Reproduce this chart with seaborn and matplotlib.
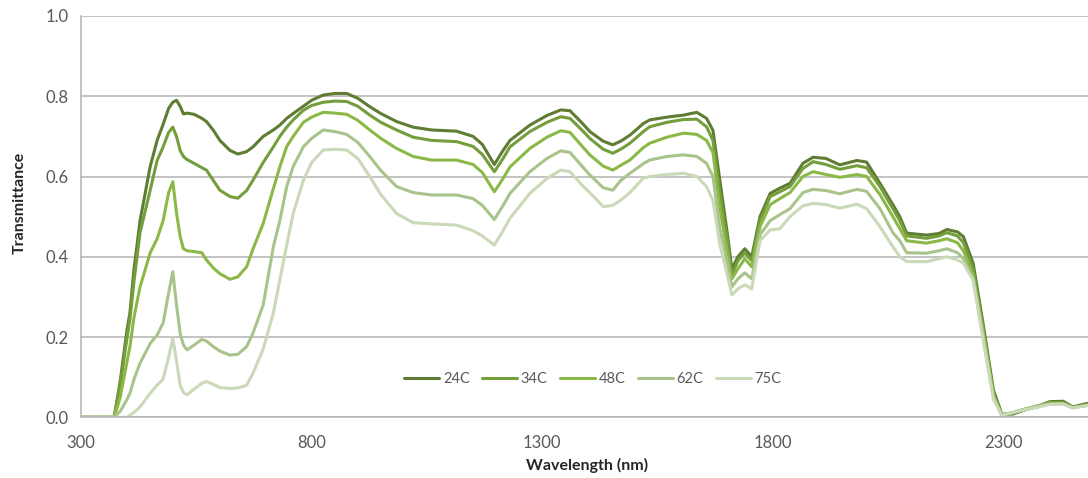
import numpy as np
import pandas as pd
import matplotlib
matplotlib.use("Agg")
import matplotlib.pyplot as plt
from matplotlib.ticker import FixedLocator, MultipleLocator, FormatStrFormatter
import seaborn as sns

series = ["24C", "34C", "48C", "62C", "75C"]
colors = ["#5F7D32", "#739E3B", "#8BB846", "#A9C48B", "#CAD9B7"]
x_major_ticks = [300, 800, 1300, 1800, 2300]

wavelength = [300, 372, 385, 400, 406, 415, 428, 450, 465, 478, 490, 499, 507, 515, 522, 530,
              545, 562, 572, 587, 601, 623, 640, 659, 673, 695, 717, 731, 746, 760, 782, 800,
              825, 850, 876, 900, 926, 950, 984, 1020, 1060, 1114, 1150, 1170, 1196, 1215, 1230,
              1273, 1310, 1340, 1360, 1389, 1403, 1432, 1453, 1470, 1490, 1519, 1533, 1570, 1606,
              1635, 1656, 1670, 1685, 1700, 1711, 1724, 1739, 1754, 1772, 1794, 1815, 1837, 1865,
              1887, 1915, 1945, 1982, 2003, 2032, 2060, 2075, 2090, 2133, 2160, 2177, 2200, 2213,
              2234, 2256, 2278, 2296, 2320, 2350, 2380, 2400, 2429, 2450, 2483, 2500]

t24 = [0, 0, 0.09, 0.22, 0.26, 0.37, 0.49, 0.625, 0.69, 0.73, 0.77, 0.785, 0.79, 0.775, 0.756, 0.758,
       0.755, 0.745, 0.737, 0.715, 0.69, 0.665, 0.656, 0.662, 0.674, 0.70, 0.716, 0.728, 0.745, 0.757, 0.775, 0.79,
       0.803, 0.807, 0.807, 0.795, 0.774, 0.757, 0.737, 0.723, 0.716, 0.713, 0.70, 0.68, 0.63, 0.665, 0.69,
       0.728, 0.752, 0.766, 0.764, 0.73, 0.712, 0.688, 0.679, 0.688, 0.703, 0.732, 0.741, 0.748, 0.753,
       0.76, 0.745, 0.715, 0.59, 0.467, 0.37, 0.40, 0.42, 0.40, 0.50, 0.558, 0.571, 0.583, 0.633,
       0.648, 0.645, 0.629, 0.64, 0.636, 0.583, 0.53, 0.50, 0.459, 0.454, 0.458, 0.468, 0.462, 0.45,
       0.384, 0.23, 0.068, 0.008, 0.008, 0.02, 0.03, 0.039, 0.04, 0.026, 0.035, 0.032]

t34 = [0, 0, 0.08, 0.20, 0.243, 0.34, 0.46, 0.566, 0.64, 0.674, 0.71, 0.723, 0.70, 0.665, 0.65, 0.642,
       0.633, 0.622, 0.616, 0.59, 0.566, 0.55, 0.546, 0.565, 0.591, 0.635, 0.674, 0.70, 0.723, 0.741, 0.765, 0.777,
       0.785, 0.788, 0.787, 0.775, 0.753, 0.735, 0.716, 0.698, 0.69, 0.687, 0.675, 0.655, 0.612, 0.645, 0.674,
       0.712, 0.735, 0.749, 0.745, 0.712, 0.695, 0.668, 0.658, 0.668, 0.683, 0.712, 0.724, 0.735, 0.742,
       0.743, 0.724, 0.69, 0.56, 0.45, 0.355, 0.39, 0.41, 0.39, 0.49, 0.55, 0.562, 0.575, 0.62,
       0.637, 0.63, 0.618, 0.627, 0.622, 0.575, 0.52, 0.49, 0.452, 0.446, 0.452, 0.46, 0.452, 0.435,
       0.37, 0.22, 0.06, 0.006, 0.01, 0.02, 0.028, 0.035, 0.036, 0.024, 0.032, 0.03]

t48 = [0, 0, 0.05, 0.14, 0.176, 0.25, 0.325, 0.41, 0.445, 0.49, 0.56, 0.587, 0.51, 0.45, 0.42, 0.415,
       0.413, 0.41, 0.392, 0.372, 0.358, 0.344, 0.35, 0.375, 0.42, 0.483, 0.57, 0.624, 0.675, 0.70, 0.735, 0.748,
       0.76, 0.758, 0.755, 0.74, 0.716, 0.695, 0.67, 0.65, 0.641, 0.641, 0.63, 0.61, 0.562, 0.595, 0.624,
       0.67, 0.698, 0.714, 0.71, 0.672, 0.654, 0.626, 0.616, 0.628, 0.641, 0.672, 0.683, 0.698, 0.708,
       0.705, 0.69, 0.66, 0.52, 0.42, 0.345, 0.37, 0.395, 0.375, 0.475, 0.53, 0.545, 0.56, 0.60,
       0.612, 0.605, 0.598, 0.605, 0.60, 0.555, 0.50, 0.47, 0.44, 0.434, 0.44, 0.445, 0.435, 0.415,
       0.355, 0.21, 0.055, 0.005, 0.012, 0.022, 0.03, 0.036, 0.035, 0.025, 0.03, 0.03]

t62 = [0, 0, 0.015, 0.045, 0.06, 0.095, 0.135, 0.184, 0.205, 0.235, 0.31, 0.363, 0.28, 0.209, 0.18, 0.168,
       0.18, 0.194, 0.19, 0.176, 0.165, 0.155, 0.157, 0.176, 0.21, 0.28, 0.425, 0.49, 0.575, 0.625, 0.674, 0.695,
       0.716, 0.712, 0.705, 0.685, 0.65, 0.615, 0.575, 0.56, 0.554, 0.554, 0.545, 0.528, 0.493, 0.528, 0.558,
       0.612, 0.645, 0.664, 0.66, 0.622, 0.604, 0.572, 0.566, 0.59, 0.608, 0.632, 0.641, 0.65, 0.654,
       0.65, 0.633, 0.60, 0.47, 0.39, 0.325, 0.345, 0.36, 0.345, 0.455, 0.49, 0.505, 0.52, 0.56,
       0.568, 0.565, 0.557, 0.568, 0.563, 0.52, 0.46, 0.44, 0.41, 0.409, 0.415, 0.42, 0.41, 0.395,
       0.345, 0.20, 0.05, 0.005, 0.012, 0.02, 0.028, 0.033, 0.034, 0.024, 0.03, 0.03]

t75 = [0, 0, 0, 0.0, 0.005, 0.012, 0.026, 0.06, 0.08, 0.095, 0.15, 0.197, 0.14, 0.08, 0.062, 0.056,
       0.07, 0.085, 0.089, 0.082, 0.074, 0.072, 0.073, 0.08, 0.11, 0.17, 0.26, 0.342, 0.43, 0.508, 0.59, 0.635,
       0.666, 0.668, 0.666, 0.645, 0.60, 0.555, 0.508, 0.485, 0.482, 0.479, 0.465, 0.452, 0.429, 0.465, 0.496,
       0.558, 0.595, 0.616, 0.612, 0.575, 0.56, 0.525, 0.528, 0.541, 0.56, 0.596, 0.60, 0.605, 0.608,
       0.60, 0.575, 0.54, 0.43, 0.36, 0.305, 0.32, 0.33, 0.32, 0.44, 0.467, 0.47, 0.50, 0.527,
       0.533, 0.53, 0.521, 0.531, 0.52, 0.475, 0.425, 0.40, 0.388, 0.388, 0.395, 0.40, 0.392, 0.384,
       0.342, 0.19, 0.045, 0.005, 0.012, 0.02, 0.027, 0.032, 0.033, 0.023, 0.03, 0.03]

values = [t24, t34, t48, t62, t75]
df = pd.concat([pd.DataFrame({"Wavelength": wavelength, "Transmittance": v, "Series": s})
                for s, v in zip(series, values)], ignore_index=True)

sns.set_theme(style="white")
plt.rcParams["font.family"] = ["Lato", "DejaVu Sans"]

W, H = 1088, 478
x0, y0, yt = 81, 417.3, 16
aw, ah = W - x0, y0 - yt
fig = plt.figure(figsize=(W / 100, H / 100), dpi=100)
ax = fig.add_axes([x0 / W, 1 - y0 / H, aw / W, ah / H])

sns.lineplot(data=df, x="Wavelength", y="Transmittance", hue="Series", hue_order=series,
             palette=colors, linewidth=2.2, ax=ax, sort=False)

gray = "#B3B3B3"
ax.set_xlim(300, 2483)
ax.set_ylim(0, 1.0)
ax.xaxis.set_major_locator(FixedLocator(x_major_ticks))
ax.xaxis.set_minor_locator(MultipleLocator(100))
ax.yaxis.set_major_locator(MultipleLocator(0.2))
ax.yaxis.set_major_formatter(FormatStrFormatter("%.1f"))
ax.grid(axis="y", color=gray, linewidth=1.1)
ax.grid(axis="x", visible=False)
ax.set_axisbelow(True)
for side in ["top", "right"]:
    ax.spines[side].set_visible(False)
for side in ["left", "bottom"]:
    ax.spines[side].set_color(gray)
    ax.spines[side].set_linewidth(1.1)
ax.tick_params(axis="both", which="both", direction="out", color=gray, width=1.0,
               labelsize=12, labelcolor="#595959")
ax.tick_params(axis="x", which="major", length=5, pad=8)
ax.tick_params(axis="x", which="minor", length=5)
ax.tick_params(axis="y", which="major", length=5, pad=4)

ax.set_xlabel("Wavelength (nm)", fontsize=11.5, fontweight="bold", color="#262626")
ax.set_ylabel("Transmittance", fontsize=11.5, fontweight="bold", color="#262626")
ax.xaxis.set_label_coords((587 - x0) / aw, (y0 - 458) / ah)
ax.yaxis.set_label_coords((27 - x0) / aw, (y0 - 203) / ah)

leg = ax.legend(loc="center", bbox_to_anchor=((593 - x0) / aw, (y0 - 379) / ah),
                ncol=5, frameon=False, fontsize=10.5, handlelength=2.4, handletextpad=0.25,
                columnspacing=0.85, title=None)
for t in leg.get_texts():
    t.set_color("#595959")

fig.savefig("out.png", dpi=100)
